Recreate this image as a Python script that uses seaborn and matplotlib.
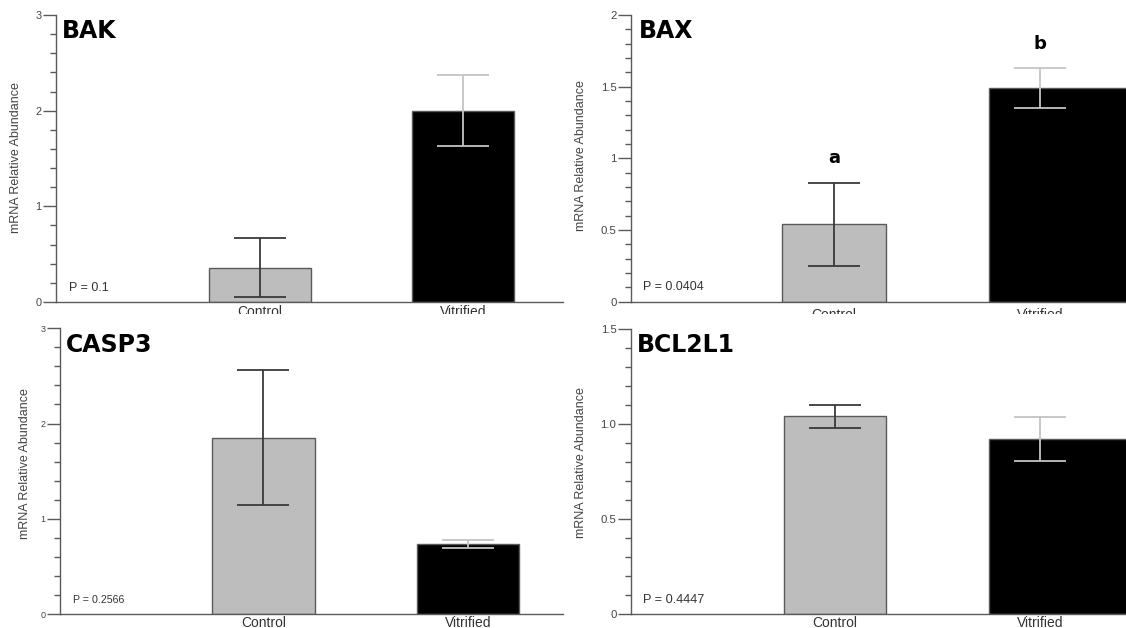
import matplotlib
matplotlib.use("Agg")
import matplotlib.pyplot as plt
from matplotlib.ticker import MultipleLocator, FixedLocator
from matplotlib.transforms import Bbox, TransformedBbox
import seaborn as sns
import pandas as pd

sns.set_theme(style="white")
plt.rcParams['font.family'] = ['Liberation Sans', 'DejaVu Sans']

# ---------------- data ----------------
groups = ["Control", "Vitrified"]
genes = ["BAK", "BAX", "CASP3", "BCL2L1"]

bak_mean = [0.36, 2.00]
bak_se = [0.31, 0.37]
bax_mean = [0.54, 1.49]
bax_se = [0.29, 0.14]
casp3_mean = [1.85, 0.735]
casp3_se = [0.71, 0.04]
bcl2l1_mean = [1.04, 0.92]
bcl2l1_se = [0.06, 0.115]

p_values = ["P = 0.1", "P = 0.0404", "P = 0.2566", "P = 0.4447"]
bax_letters = ["a", "b"]

y_max = [3, 2, 3, 1.5]
y_major = [[0, 1, 2, 3], [0, 0.5, 1, 1.5, 2], [0, 1, 2, 3], [0, 0.5, 1.0, 1.5]]
y_major_labels = [["0", "1", "2", "3"], ["0", "0.5", "1", "1.5", "2"],
                  ["0", "1", "2", "3"], ["0", "0.5", "1.0", "1.5"]]
y_minor_step = [0.2, 0.1, 0.2, 0.1]

means = [bak_mean, bax_mean, casp3_mean, bcl2l1_mean]
ses = [bak_se, bax_se, casp3_se, bcl2l1_se]

# ---------------- layout (pixel based) ----------------
W, H = 1126, 628
fig = plt.figure(figsize=(W / 100, H / 100), dpi=100)

# left, right, top(y px), bottom(y px)
boxes = [(56, 563, 15, 302), (631, 1126, 15, 301.7),
         (60, 563, 328.3, 614), (631, 1126, 329, 614)]
xlims = [(-1.005, 1.493), (-0.985, 1.417), (-0.995, 1.465), (-0.995, 1.42)]
ylabel_px = [22.5, 587.5, 31.5, 587.5]
ylabel_fy = [0.503, 0.51, 0.525, 0.53]
ytick_size = [7.8, 8.2, 6.5, 8.2]
p_size = [9, 9, 7.7, 9.2]
xtick_pad = [2, 4.5, 1.2, 1.5]

bar_colors = ["#bdbdbd", "#000000"]
err_colors = ["#3a3a3a", "#c4c4c4"]
axis_col = "#5a5a5a"

axes = []
for k in range(4):
    l, r, t, b = boxes[k]
    ax = fig.add_axes([l / W, (H - b) / H, (r - l) / W, (b - t) / H])
    axes.append(ax)
    df = pd.DataFrame({"group": groups, "value": means[k]})
    sns.barplot(data=df, x="group", y="value", hue="group", order=groups,
                hue_order=groups, palette=bar_colors, width=0.5,
                edgecolor=axis_col, linewidth=1.0, legend=False, ax=ax,
                zorder=2)
    for i in range(2):
        ax.errorbar(i, means[k][i], yerr=ses[k][i], fmt="none",
                    ecolor=err_colors[i], elinewidth=1.3, capsize=18.5,
                    capthick=1.3, zorder=3)
    # right-hand panels: vitrified bar runs off the image edge
    if k in (1, 3):
        ax.patches[1].set_width(0.9)

    ax.set_xlim(*xlims[k])
    ax.set_ylim(0, y_max[k])
    ax.set_xlabel("")
    ax.set_ylabel("mRNA Relative Abundance", fontsize=9, color="#444444")
    ax.yaxis.set_label_coords((ylabel_px[k] - l) / (r - l), ylabel_fy[k])

    ax.yaxis.set_major_locator(FixedLocator(y_major[k]))
    ax.set_yticklabels(y_major_labels[k])
    ax.yaxis.set_minor_locator(MultipleLocator(y_minor_step[k]))
    ax.tick_params(axis="y", which="major", length=9.5, width=1.0,
                   color=axis_col, labelsize=ytick_size[k],
                   labelcolor="#444444", pad=1, left=True)
    ax.tick_params(axis="y", which="minor", length=4, width=1.0,
                   color=axis_col, left=True)
    ax.tick_params(axis="x", length=0, labelsize=10, labelcolor="#333333",
                   pad=xtick_pad[k])

    for s in ["top", "right"]:
        ax.spines[s].set_visible(False)
    for s in ["left", "bottom"]:
        ax.spines[s].set_color(axis_col)
        ax.spines[s].set_linewidth(1.0)
    ax.set_facecolor("none")

    ax.text(0.012 if k != 1 else 0.016, 0.985, genes[k],
            transform=ax.transAxes, fontsize=17, fontweight="bold",
            family="DejaVu Sans", color="black", ha="left", va="top")
    ax.text(0.025, 0.05, p_values[k], transform=ax.transAxes,
            fontsize=p_size[k], color="#333333", ha="left", va="center")

# significance letters on BAX
for i in range(2):
    axes[1].text(i, bax_mean[i] + bax_se[i] + 0.17, bax_letters[i],
                 fontsize=13, fontweight="bold", family="DejaVu Sans",
                 ha="center", va="center", color="black")

# top-row category labels are cut off by the lower panels
clip_top = TransformedBbox(Bbox([[0, (H - 314) / H], [1, 1]]), fig.transFigure)
for ax in axes[:2]:
    for tick in ax.xaxis.get_major_ticks():
        tick.label1.set_clip_box(clip_top)
        tick.label1.set_clip_on(True)

fig.savefig("out.png", dpi=100, facecolor="white")
